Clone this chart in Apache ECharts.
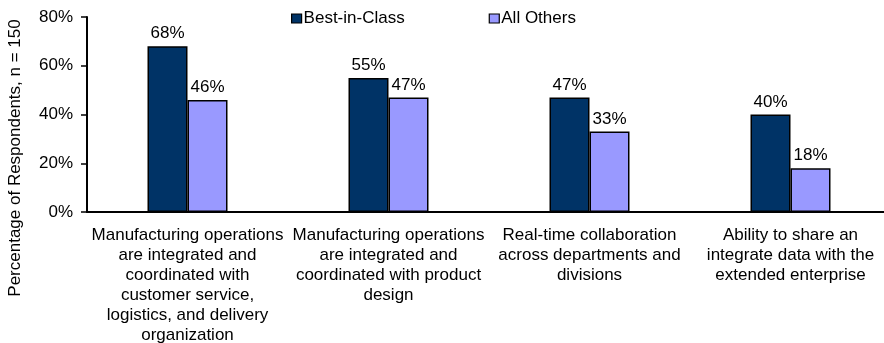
<!DOCTYPE html>
<html><head><meta charset="utf-8">
<script src="https://cdn.jsdelivr.net/npm/echarts@6/dist/echarts.min.js"></script>
<style>html,body{margin:0;padding:0;background:#fff}#c{width:884px;height:343px}</style>
</head><body><div id="c"></div>
<script>
const categories = [
  "Manufacturing operations\nare integrated and\ncoordinated with\ncustomer service,\nlogistics, and delivery\norganization",
  "Manufacturing operations\nare integrated and\ncoordinated with product\ndesign",
  "Real-time collaboration\nacross departments and\ndivisions",
  "Ability to share an\nintegrate data with the\nextended enterprise"
];
const bestInClass = [68, 55, 47, 40];
const allOthers = [46, 47, 33, 18];
const seriesNames = ["Best-in-Class", "All Others"];
const yTicks = [0, 20, 40, 60, 80];
const yTitle = "Percentage of Respondents, n = 150";

const font = "'Liberation Sans', Arial, sans-serif";
const chart = echarts.init(document.getElementById('c'));
chart.setOption({
  animation: false,
  textStyle: {fontFamily: font},
  legend: {
    top: 5, left: 286, itemWidth: 10, itemHeight: 9, itemGap: 84, icon: 'rect',
    itemStyle: {borderColor: '#000', borderWidth: 1.2},
    textStyle: {fontFamily: font, fontSize: 17, color: '#000', padding: [0,0,0,-3]},
    data: seriesNames
  },
  graphic: [{
    type: 'text', x: 15, y: 158, rotation: Math.PI / 2,
    style: {text: yTitle, font: "17px 'Liberation Sans', Arial, sans-serif", fill: '#000', align: 'center', verticalAlign: 'middle'}
  }],
  grid: {left: 87, right: -7, top: 17, bottom: 131, containLabel: false, outerBoundsMode: 'none'},
  xAxis: {
    type: 'category', data: categories,
    axisLine: {lineStyle: {color: '#000', width: 2}},
    axisTick: {show: false},
    axisLabel: {interval: 0, fontFamily: font, fontSize: 17, color: '#000', lineHeight: 20, margin: 13}
  },
  yAxis: {
    type: 'value', min: 0, max: 80, interval: 20,
    axisLine: {show: true, lineStyle: {color: '#000', width: 2}},
    axisTick: {show: true, length: 6, lineStyle: {color: '#000', width: 1.5}},
    splitLine: {show: false},
    axisLabel: {formatter: v => yTicks.includes(v) ? v + '%' : '', fontFamily: font, fontSize: 17, color: '#000', margin: 14}
  },
  series: [
    {name: seriesNames[0], type: 'bar', data: bestInClass, barWidth: 40, barGap: '0%',
     itemStyle: {color: '#003366', borderColor: '#000', borderWidth: 1.5},
     label: {show: true, position: 'top', formatter: '{c}%', fontFamily: font, fontSize: 17, color: '#000', distance: 4}},
    {name: seriesNames[1], type: 'bar', data: allOthers, barWidth: 40, barGap: '0%',
     itemStyle: {color: '#9999FF', borderColor: '#000', borderWidth: 1.5},
     label: {show: true, position: 'top', formatter: '{c}%', fontFamily: font, fontSize: 17, color: '#000', distance: 4}}
  ]
});
</script></body></html>
